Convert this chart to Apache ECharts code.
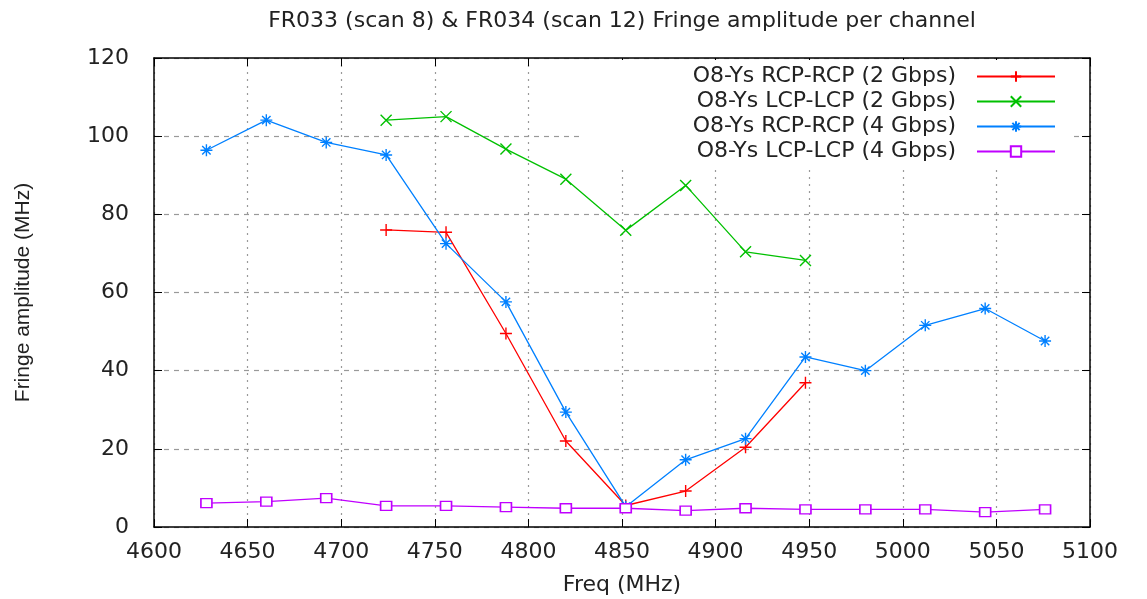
<!DOCTYPE html>
<html>
<head>
<meta charset="utf-8">
<script src="https://cdn.jsdelivr.net/npm/echarts@6/dist/echarts.min.js"></script>
<style>html,body{margin:0;padding:0;background:#fff;}#c{width:1147px;height:599px;}</style>
</head>
<body>
<div id="c"></div>
<script>
const titleText = 'FR033 (scan 8) & FR034 (scan 12) Fringe amplitude per channel';
const xName = 'Freq (MHz)';
const yName = 'Fringe amplitude (MHz)';
const seriesNames = ['O8-Ys RCP-RCP (2 Gbps)', 'O8-Ys LCP-LCP (2 Gbps)', 'O8-Ys RCP-RCP (4 Gbps)', 'O8-Ys LCP-LCP (4 Gbps)'];
const freq2 = [4724, 4756, 4788, 4820, 4852, 4884, 4916, 4948];
const freq4 = [4628, 4660, 4692, 4724, 4756, 4788, 4820, 4852, 4884, 4916, 4948, 4980, 5012, 5044, 5076];
const rcp2 = [76.0, 75.4, 49.5, 22.0, 5.5, 9.2, 20.4, 36.9];
const lcp2 = [104.1, 105.0, 96.7, 89.0, 75.9, 87.4, 70.4, 68.2];
const rcp4 = [96.4, 104.1, 98.4, 95.2, 72.5, 57.6, 29.4, 5.2, 17.2, 22.6, 43.5, 40.0, 51.6, 55.9, 47.6];
const lcp4 = [6.1, 6.5, 7.4, 5.4, 5.4, 5.1, 4.8, 4.8, 4.2, 4.8, 4.5, 4.5, 4.5, 3.8, 4.5];

const colors = ['#ff0000', '#00c000', '#0080ff', '#c000ff'];
const symPlus = 'path://M0,5L10,5M5,0L5,10';
const symX = 'path://M0,0L10,10M10,0L0,10';
const symStar = 'path://M0,5L10,5M5,0L5,10M1.5,1.5L8.5,8.5M8.5,1.5L1.5,8.5';

function pairs(xs, ys) { return xs.map((x, i) => [x, ys[i]]); }

const FONT = 'DejaVu Sans';
const chart = echarts.init(document.getElementById('c'), null, {renderer: 'canvas'});

function mkSeries(name, xs, ys, color, symbol, size, empty) {
  return {
    name: name,
    type: 'line',
    data: pairs(xs, ys),
    symbol: symbol,
    symbolSize: size,
    showAllSymbol: true,
    lineStyle: {color: color, width: 1.3},
    itemStyle: empty ? {color: '#fff', borderColor: color, borderWidth: 1.5}
                     : {color: color, borderColor: color, borderWidth: 1.4},
    emphasis: {disabled: true},
    z: 3
  };
}

const axisLine = {show: true, onZero: false, lineStyle: {color: '#000', width: 1.5}};
const tick = {show: true, inside: true, length: 8, lineStyle: {color: '#000', width: 1}};
const option = {
  animation: false,
  backgroundColor: '#fff',
  title: {
    text: titleText,
    left: 617,
    textAlign: 'center',
    top: 5,
    textStyle: {fontFamily: FONT, fontSize: 22, fontWeight: 'normal', color: '#222'}
  },
  grid: {left: 154, right: 57, top: 58, bottom: 72, containLabel: false, outerBoundsMode: 'none'},
  legend: {
    orient: 'vertical',
    right: 77,
    top: 60,
    align: 'right',
    itemWidth: 78,
    itemHeight: 13,
    itemGap: 0,
    padding: [4, 14, 6, 112],
    backgroundColor: '#fff',
    textStyle: {fontFamily: FONT, fontSize: 22, color: '#222', padding: [0, 16, 0, 0], lineHeight: 25},
    data: seriesNames,
    selectedMode: false,
    z: 4
  },
  xAxis: [{
    type: 'value', min: 4600, max: 5100, interval: 50, position: 'bottom',
    name: xName, nameLocation: 'middle', nameGap: 47,
    nameTextStyle: {fontFamily: FONT, fontSize: 22, color: '#222'},
    axisLine: axisLine,
    axisTick: tick,
    axisLabel: {fontFamily: FONT, fontSize: 22, color: '#222', margin: 14, formatter: v => String(v)},
    splitLine: {show: true, lineStyle: {color: '#999', type: [2, 5], width: 1.2}}
  }, {
    type: 'value', min: 4600, max: 5100, interval: 50, position: 'top',
    axisLine: axisLine,
    axisTick: tick,
    axisLabel: {show: false}, splitLine: {show: false}
  }],
  yAxis: [{
    type: 'value', min: 0, max: 120, interval: 20, position: 'left',
    name: yName, nameLocation: 'middle', nameGap: 120, nameRotate: 90,
    nameTextStyle: {fontFamily: 'Liberation Sans', fontSize: 21, color: '#222'},
    axisLine: axisLine,
    axisTick: tick,
    axisLabel: {fontFamily: FONT, fontSize: 22, color: '#222', margin: 25, formatter: v => String(v)},
    splitLine: {show: true, lineStyle: {color: '#999', type: [5, 5], width: 1.2}}
  }, {
    type: 'value', min: 0, max: 120, interval: 20, position: 'right',
    axisLine: axisLine,
    axisTick: tick,
    axisLabel: {show: false}, splitLine: {show: false}
  }],
  series: [
    mkSeries(seriesNames[0], freq2, rcp2, colors[0], symPlus, 12, false),
    mkSeries(seriesNames[1], freq2, lcp2, colors[1], symX, 11, false),
    mkSeries(seriesNames[2], freq4, rcp4, colors[2], symStar, 12, false),
    mkSeries(seriesNames[3], freq4, lcp4, colors[3], 'rect', [11, 9], true)
  ]
};
chart.setOption(option);
</script>
</body>
</html>
